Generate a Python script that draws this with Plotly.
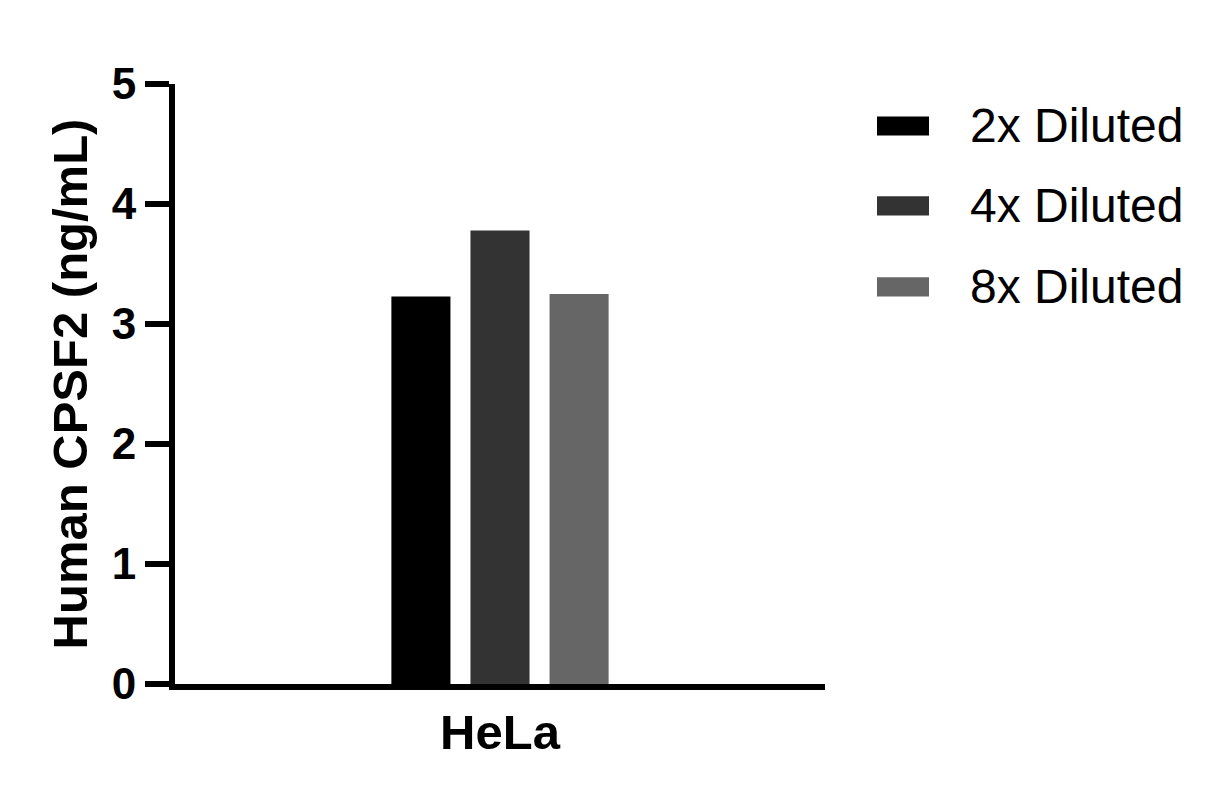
import plotly.graph_objects as go

samples = ["HeLa"]
series = ["2x Diluted", "4x Diluted", "8x Diluted"]
values = [[3.23], [3.78], [3.25]]
colors = ["#000000", "#333333", "#666666"]

font = "Liberation Sans, Arial, sans-serif"

fig = go.Figure()
for name, vals, col in zip(series, values, colors):
    fig.add_trace(go.Bar(x=samples, y=vals, name=name, marker_color=col,
                         marker_line_width=0, showlegend=False))

# legend drawn by hand to get the wide Prism-style swatches
row_y = [0.93, 0.797, 0.662]
for name, col, yy in zip(series, colors, row_y):
    fig.add_shape(type="rect", xref="paper", yref="paper",
                  x0=1.08, x1=1.16, y0=yy - 0.016, y1=yy + 0.016,
                  fillcolor=col, line_width=0)
    fig.add_annotation(xref="paper", yref="paper", x=1.22, y=yy, text=name,
                       showarrow=False, xanchor="left", yanchor="middle",
                       font=dict(family=font, size=48, color="black"))

# page body has an 8px margin, so the figure is a bit smaller than the window
fig.update_layout(
    width=1210, height=788,
    margin=dict(l=167, r=393, t=76, b=112),
    paper_bgcolor="white", plot_bgcolor="white",
    barmode="group", bargap=0.635, bargroupgap=0.253,
    font=dict(family=font, color="black"),
)
fig.update_xaxes(showline=True, linewidth=6, linecolor="black", ticks="",
                 tickfont=dict(size=49, family=font, weight="bold"),
                 showgrid=False, zeroline=False)
fig.update_yaxes(range=[0, 5], dtick=1, showline=True, linewidth=6, linecolor="black",
                 ticks="outside", ticklen=24, tickwidth=6, tickcolor="black",
                 tickfont=dict(size=44, family=font, weight="bold"),
                 title=dict(text="Human CPSF2 (ng/mL)", standoff=11,
                            font=dict(size=49, family=font, weight="bold")),
                 showgrid=False, zeroline=False)

fig.write_html("out.html")
